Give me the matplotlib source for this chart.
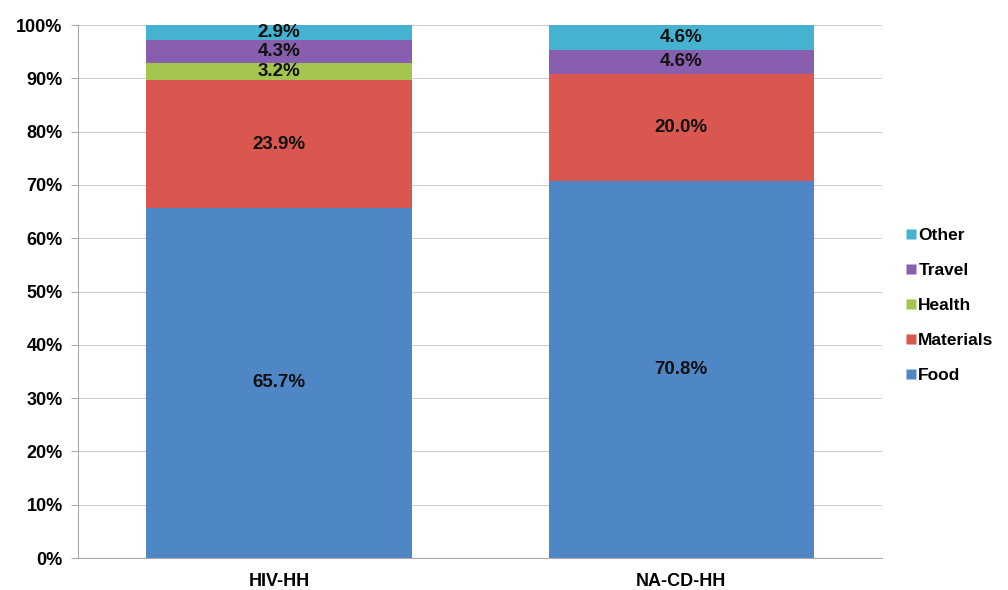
import matplotlib
matplotlib.use('Agg')
import matplotlib.pyplot as plt
from matplotlib.lines import Line2D

groups = ["HIV-HH", "NA-CD-HH"]
categories = ["Food", "Materials", "Health", "Travel", "Other"]
food = [65.7, 70.8]
materials = [23.9, 20.0]
health = [3.2, 0.0]
travel = [4.3, 4.6]
other = [2.9, 4.6]
colors = ["#4f86c6", "#d9574f", "#a3c44f", "#875fae", "#45b3cf"]

plt.rcParams['font.family'] = ['Liberation Sans', 'DejaVu Sans']
plt.rcParams['font.weight'] = 'bold'

fig = plt.figure(figsize=(10.08, 5.9), dpi=100)
ax = fig.add_axes([0.0774, 0.0542, 0.798, 0.9034])

series = [food, materials, health, travel, other]
x = range(len(groups))
bottom = [0.0, 0.0]
for name, vals, col in zip(categories, series, colors):
    ax.bar(x, vals, width=0.66, bottom=bottom, color=col, zorder=2, label=name)
    for i, v in enumerate(vals):
        if v > 0:
            ax.text(i, bottom[i] + v / 2, f"{v:.1f}%", ha='center', va='center',
                    fontsize=13.5, fontweight='bold', color='#111111', zorder=3)
    bottom = [b + v for b, v in zip(bottom, vals)]

ax.set_xlim(-0.5, 1.5)
ax.set_ylim(0, 100)
ax.set_yticks(range(0, 101, 10))
ax.set_yticklabels([f"{t}%" for t in range(0, 101, 10)], fontsize=13, fontweight='bold')
ax.set_xticks(list(x))
ax.set_xticklabels(groups, fontsize=13, fontweight='bold')
ax.tick_params(axis='x', length=0, pad=11)
ax.tick_params(axis='y', length=5, color='#aaaaaa', pad=6)
ax.yaxis.grid(True, color='#cccccc', linewidth=0.8, zorder=0)
for s in ['top', 'right']:
    ax.spines[s].set_visible(False)
for s in ['left', 'bottom']:
    ax.spines[s].set_color('#aaaaaa')

handles = [Line2D([], [], marker='s', linestyle='none', markersize=7,
                  markerfacecolor=c, markeredgecolor='none') for c in colors]
leg = fig.legend(handles[::-1], categories[::-1], loc='center left',
                 bbox_to_anchor=(0.886, 0.482), frameon=False, handletextpad=0.05,
                 labelspacing=1.15, prop={'size': 12.5, 'weight': 'bold'}, handlelength=0.7,
                 borderpad=0.2)

fig.savefig("out.png", dpi=100)
